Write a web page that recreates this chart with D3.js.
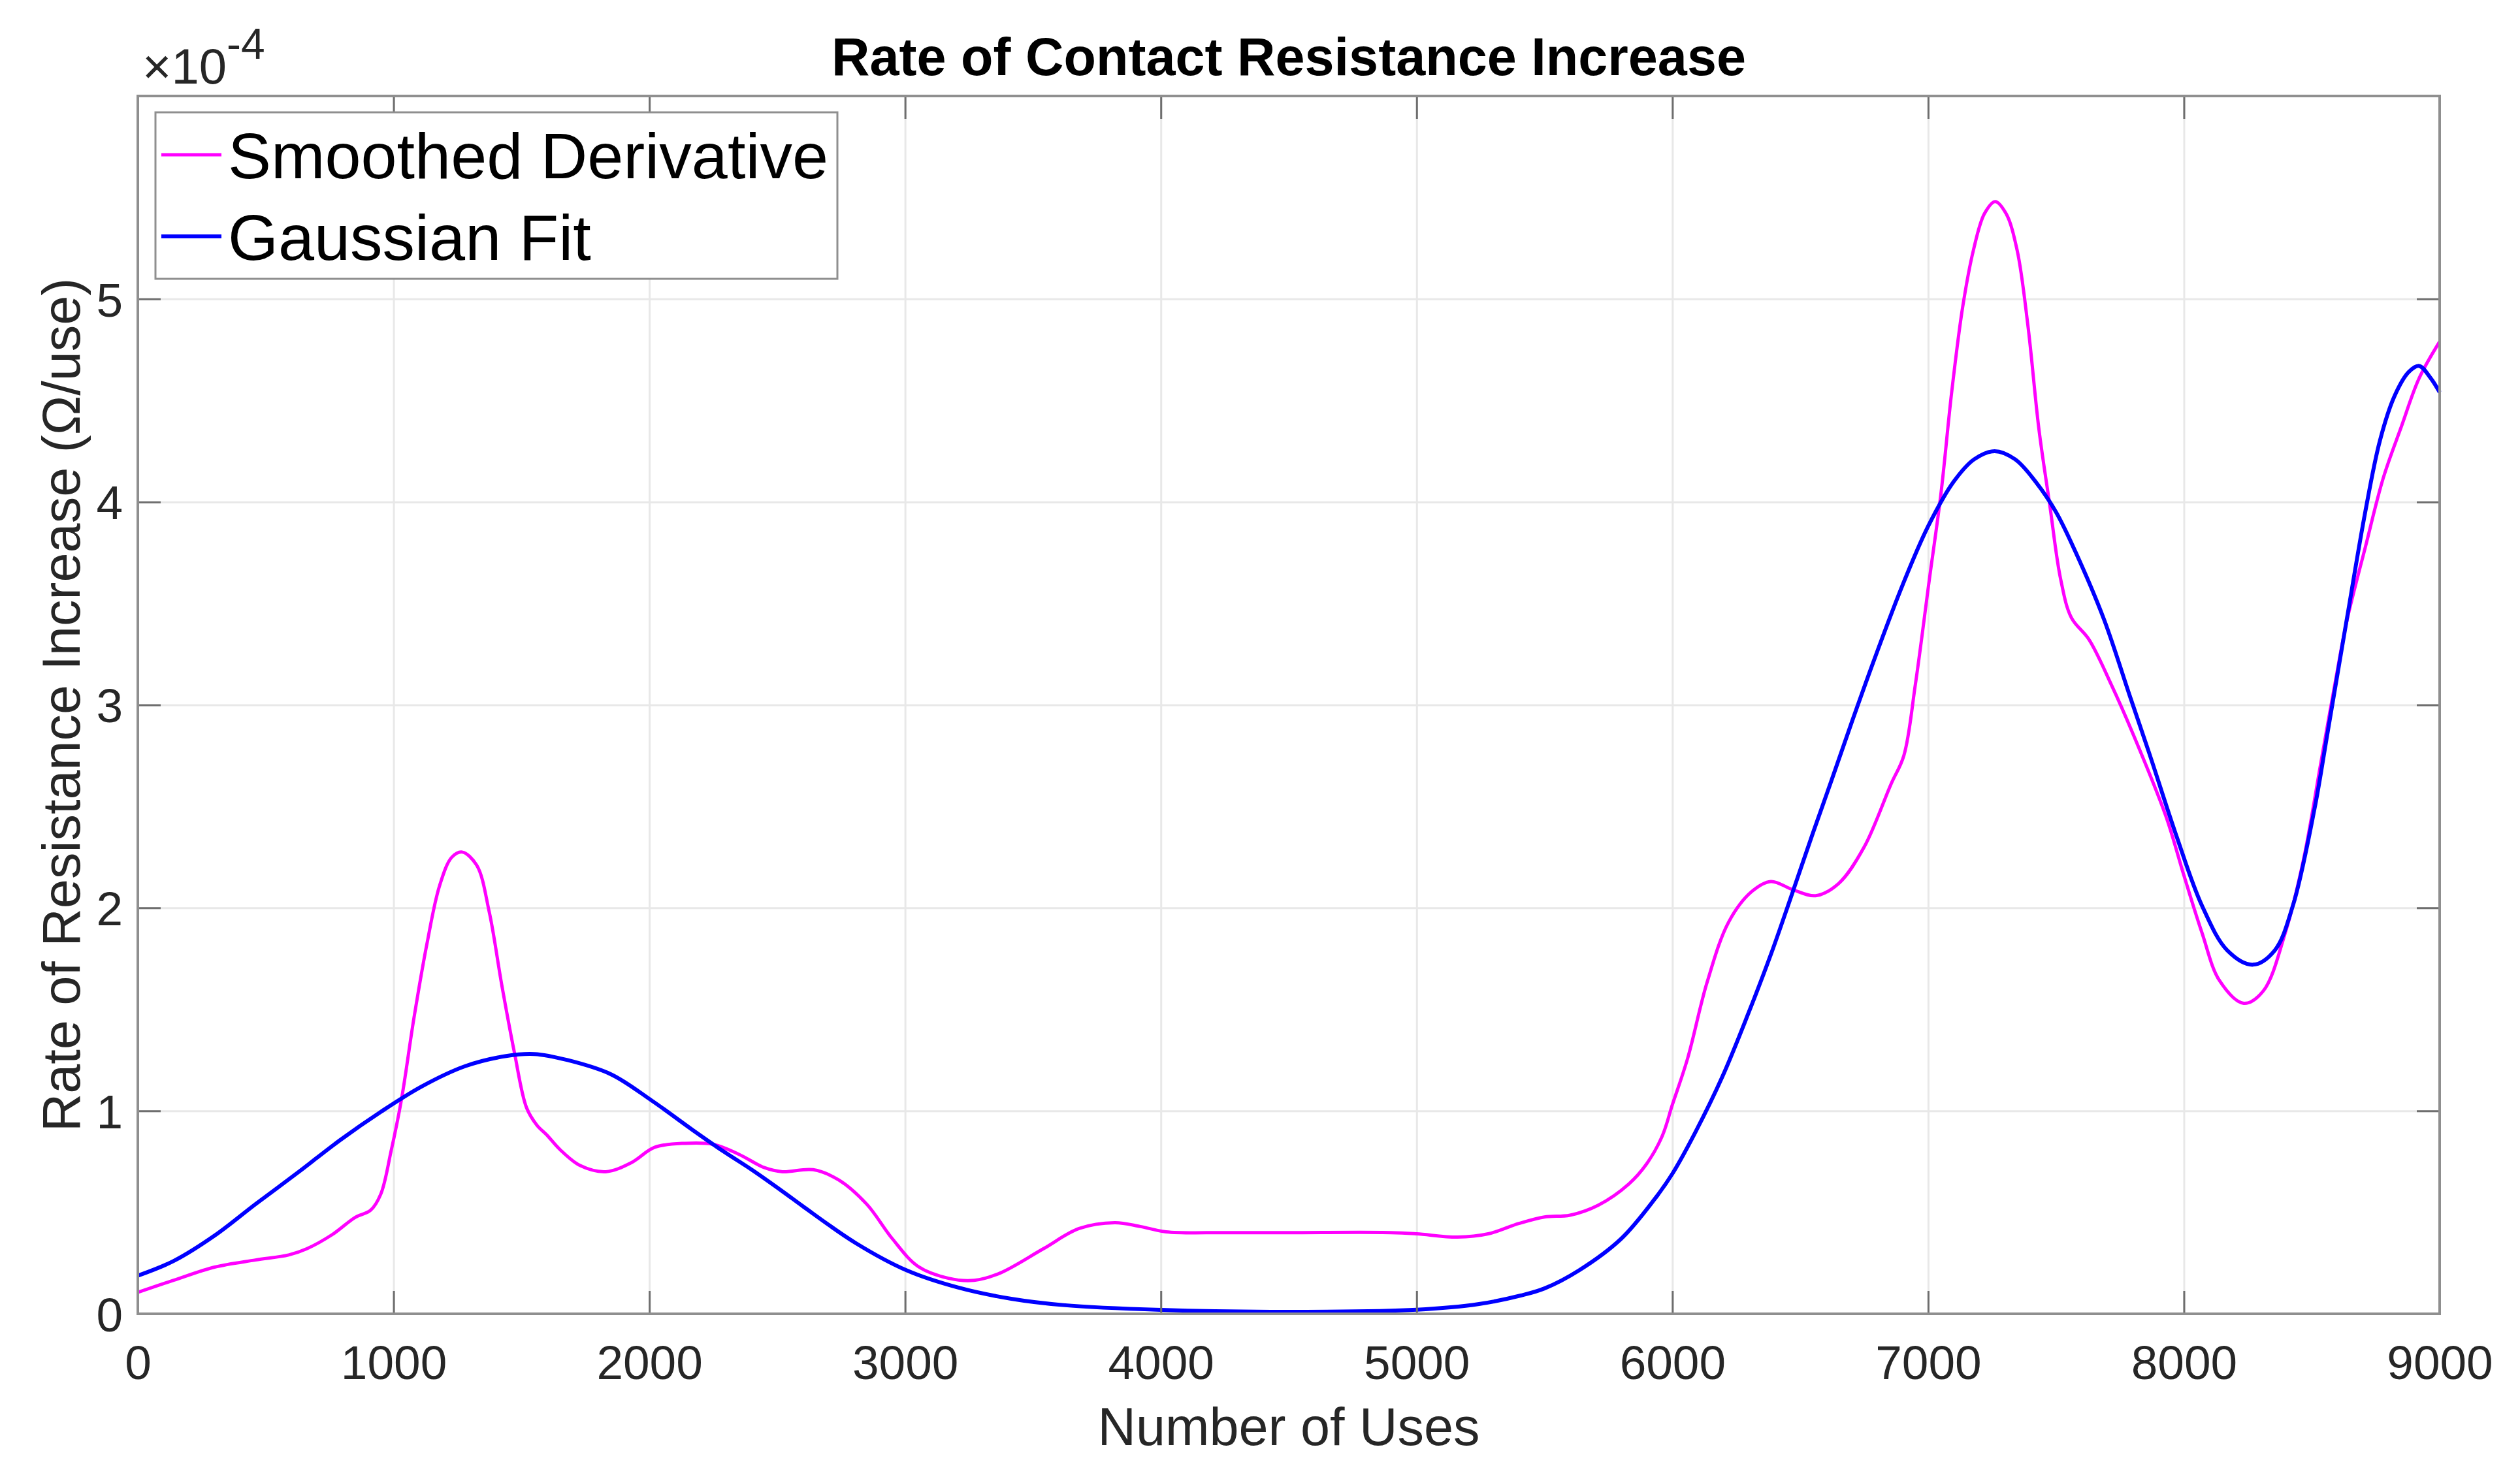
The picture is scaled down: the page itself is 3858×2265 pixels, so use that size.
<!DOCTYPE html>
<html>
<head>
<meta charset="utf-8">
<script src="https://cdn.jsdelivr.net/npm/d3@7"></script>
<style>
  body { margin: 0; background: #fff; }
  svg { display: block; }
  text { font-family: "Liberation Sans", Arial, Helvetica, sans-serif; }
</style>
</head>
<body>
<div id="chart"></div>
<script>
// tick values
const xTicks = [0, 1000, 2000, 3000, 4000, 5000, 6000, 7000, 8000, 9000];
const yTicks = [0, 1, 2, 3, 4, 5];

// Smoothed Derivative (rate in units of 1e-4 ohm/use)
const smoothUses = [0, 140, 300, 460, 590, 660, 760, 850, 910, 950, 990, 1030, 1080, 1130, 1180, 1228, 1268, 1325, 1374, 1423,
  1472, 1520, 1560, 1600, 1650, 1730, 1830, 1930, 2020, 2140, 2250, 2350, 2450, 2520, 2640, 2740, 2850, 2950, 3050, 3170,
  3270, 3370, 3540, 3680, 3820, 3920, 4020, 4250, 4500, 4900, 5000, 5160, 5280, 5400, 5500, 5600, 5710, 5830, 5900, 5960,
  6000, 6060, 6135, 6220, 6310, 6385, 6470, 6560, 6650, 6750, 6855, 6905, 6950, 7005, 7050, 7092, 7135, 7177, 7220, 7262,
  7305, 7348, 7390, 7433, 7475, 7518, 7560, 7630, 7716, 7800, 7930, 8000, 8070, 8140, 8234, 8310, 8397, 8468, 8539, 8610,
  8640, 8710, 8780, 8850, 8920, 9000];
const smoothRate = [0.106, 0.165, 0.23, 0.265, 0.29, 0.32, 0.39, 0.475, 0.51, 0.59, 0.8, 1.05, 1.46, 1.82, 2.11, 2.25, 2.275, 2.21, 1.98, 1.62,
  1.29, 1.015, 0.93, 0.88, 0.81, 0.73, 0.70, 0.745, 0.82, 0.84, 0.835, 0.786, 0.72, 0.70, 0.71, 0.66, 0.54, 0.37, 0.234, 0.175,
  0.165, 0.20, 0.32, 0.42, 0.449, 0.43, 0.404, 0.40, 0.40, 0.40, 0.394, 0.378, 0.394, 0.445, 0.477, 0.486, 0.535, 0.64, 0.74, 0.875,
  1.03, 1.26, 1.63, 1.93, 2.08, 2.13, 2.09, 2.06, 2.12, 2.30, 2.61, 2.75, 3.10, 3.62, 4.04, 4.54, 4.96, 5.24, 5.42, 5.48,
  5.42, 5.24, 4.87, 4.36, 3.99, 3.62, 3.43, 3.32, 3.10, 2.86, 2.45, 2.16, 1.88, 1.64, 1.53, 1.59, 1.88, 2.24, 2.74, 3.24,
  3.43, 3.78, 4.12, 4.37, 4.61, 4.79];

// Gaussian Fit
const fitUses = [0, 140, 300, 460, 630, 790, 950, 1110, 1280, 1440, 1550, 1680, 1850, 2010, 2170, 2290, 2400, 2524, 2600, 2805,
  3008, 3211, 3415, 3618, 4000, 4430, 5000, 5244, 5407, 5500, 5635, 5800, 5930, 6000, 6090, 6195, 6297, 6385, 6460, 6547,
  6620, 6700, 6800, 6900, 7000, 7100, 7180, 7260, 7340, 7420, 7500, 7574, 7688, 7787, 7865, 7972, 8071, 8170, 8270, 8355,
  8426, 8511, 8560, 8638, 8709, 8766, 8823, 8879, 8920, 8965, 9000];
const fitRate = [0.188, 0.26, 0.385, 0.54, 0.70, 0.855, 0.995, 1.12, 1.22, 1.27, 1.28, 1.25, 1.18, 1.05, 0.905, 0.80, 0.71, 0.6, 0.53, 0.35,
  0.213, 0.128, 0.074, 0.043, 0.019, 0.01, 0.02, 0.048, 0.09, 0.125, 0.214, 0.37, 0.564, 0.69, 0.895, 1.167, 1.48, 1.77, 2.04, 2.36,
  2.62, 2.91, 3.26, 3.59, 3.88, 4.1, 4.21, 4.25, 4.21, 4.1, 3.95, 3.76, 3.42, 3.05, 2.76, 2.35, 2.01, 1.79, 1.72, 1.79,
  2.01, 2.49, 2.85, 3.43, 3.95, 4.30, 4.52, 4.64, 4.67, 4.61, 4.54];

const seriesNames = ['Smoothed Derivative', 'Gaussian Fit'];
const seriesColors = ['#ff00ff', '#0000ff'];

const width = 3858, height = 2265;
const plot = {left: 211, right: 3735, top: 147, bottom: 2012};
const axisColor = '#8f8f8f';
const textColor = '#262626';

const svg = d3.select('#chart').append('svg')
  .attr('width', width).attr('height', height)
  .attr('viewBox', `0 0 ${width} ${height}`);

const x = d3.scaleLinear().domain([0, 9000]).range([plot.left, plot.right]);
const y = d3.scaleLinear().domain([0, 6]).range([plot.bottom, plot.top]);

// GRID
svg.append('g').attr('transform', `translate(0,${plot.bottom})`)
  .call(d3.axisBottom(x).tickValues(xTicks).tickSize(-(plot.bottom - plot.top)).tickFormat(''))
  .call(g => g.select('.domain').remove())
  .selectAll('line').attr('stroke', '#e8e8e8').attr('stroke-width', 3);
svg.append('g').attr('transform', `translate(${plot.left},0)`)
  .call(d3.axisLeft(y).tickValues(yTicks).tickSize(-(plot.right - plot.left)).tickFormat(''))
  .call(g => g.select('.domain').remove())
  .selectAll('line').attr('stroke', '#e8e8e8').attr('stroke-width', 3);

// LINES
const mkLine = (xs, ys) => d3.line().x((d, i) => x(xs[i])).y(d => y(d)).curve(d3.curveCatmullRom.alpha(0.5))(ys);
svg.append('path').attr('d', mkLine(smoothUses, smoothRate))
  .attr('fill', 'none').attr('stroke', seriesColors[0]).attr('stroke-width', 5).attr('stroke-linejoin', 'round');
svg.append('path').attr('d', mkLine(fitUses, fitRate))
  .attr('fill', 'none').attr('stroke', seriesColors[1]).attr('stroke-width', 6).attr('stroke-linejoin', 'round');

// AXES (ticks pointing inward on all sides)
const tickLen = 35;
const styleAxis = g => {
  g.select('.domain').remove();
  g.selectAll('line').attr('stroke', '#6e6e6e').attr('stroke-width', 3);
  g.selectAll('text').attr('fill', textColor).attr('font-size', 73).attr('font-family', '"Liberation Sans", Arial, sans-serif');
};
const gx = svg.append('g').attr('transform', `translate(0,${plot.bottom})`)
  .call(d3.axisBottom(x).tickValues(xTicks).tickSizeInner(-tickLen).tickSizeOuter(0).tickFormat(d3.format('d')))
  .call(styleAxis);
gx.selectAll('text').attr('y', 100).attr('dy', 0);

svg.append('g').attr('transform', `translate(0,${plot.top})`)
  .call(d3.axisTop(x).tickValues(xTicks).tickSizeInner(-tickLen).tickSizeOuter(0).tickFormat(''))
  .call(styleAxis);

const gy = svg.append('g').attr('transform', `translate(${plot.left},0)`)
  .call(d3.axisLeft(y).tickValues(yTicks).tickSizeInner(-tickLen).tickSizeOuter(0).tickFormat(d3.format('d')))
  .call(styleAxis);
gy.selectAll('text').attr('x', -23).attr('dy', '0.36em');

svg.append('g').attr('transform', `translate(${plot.right},0)`)
  .call(d3.axisRight(y).tickValues(yTicks).tickSizeInner(-tickLen).tickSizeOuter(0).tickFormat(''))
  .call(styleAxis);

// BOX
svg.append('rect').attr('x', plot.left).attr('y', plot.top)
  .attr('width', plot.right - plot.left).attr('height', plot.bottom - plot.top)
  .attr('fill', 'none').attr('stroke', axisColor).attr('stroke-width', 4);

// EXPONENT
const expo = svg.append('text').attr('x', 218).attr('y', 128).attr('fill', textColor).attr('font-size', 76);
expo.append('tspan').text('\u00d710');
expo.append('tspan').attr('dy', -38).attr('font-size', 66).text('-4');

// TITLE AND LABELS
svg.append('text').attr('x', (plot.left + plot.right) / 2).attr('y', 115)
  .attr('text-anchor', 'middle').attr('font-size', 81).attr('font-weight', 'bold').attr('fill', '#000')
  .text('Rate of Contact Resistance Increase');
svg.append('text').attr('x', (plot.left + plot.right) / 2).attr('y', 2213)
  .attr('text-anchor', 'middle').attr('font-size', 81).attr('fill', textColor)
  .text('Number of Uses');
svg.append('text').attr('transform', `translate(122,${(plot.top + plot.bottom) / 2}) rotate(-90)`)
  .attr('text-anchor', 'middle').attr('font-size', 81).attr('fill', textColor)
  .text('Rate of Resistance Increase (\u03a9/use)');

// LEGEND
const legend = svg.append('g');
legend.append('rect').attr('x', 238).attr('y', 172).attr('width', 1044).attr('height', 255)
  .attr('fill', '#fff').attr('stroke', axisColor).attr('stroke-width', 3);
const rows = legend.selectAll('.legend-row').data(seriesNames).enter().append('g')
  .attr('class', 'legend-row')
  .attr('transform', (d, i) => `translate(0,${237 + i * 125})`);
rows.append('line').attr('x1', 247).attr('x2', 339).attr('y1', 0).attr('y2', 0)
  .attr('stroke', (d, i) => seriesColors[i]).attr('stroke-width', (d, i) => (i === 0 ? 5 : 6));
rows.append('text').attr('x', 349).attr('y', 0).attr('dy', '0.36em')
  .attr('font-size', 99).attr('fill', '#000').text(d => d);
</script>
</body>
</html>
